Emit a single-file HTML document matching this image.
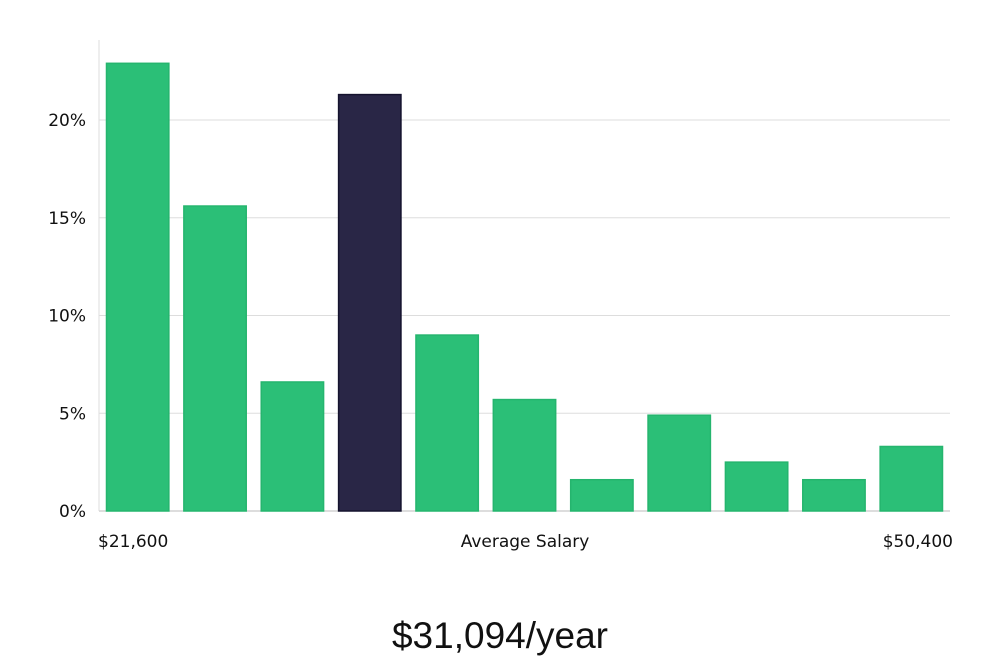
<!DOCTYPE html>
<html><head><meta charset="utf-8"><style>
body{margin:0;background:#fff;width:1000px;height:660px;overflow:hidden}
svg text{font-family:"DejaVu Sans","Liberation Sans",sans-serif;fill:#111}
</style></head><body>
<svg id="chart" width="1000" height="660" xmlns="http://www.w3.org/2000/svg">
<g id="grid"></g><g id="bars"></g><g id="labels"></g>
<text x="98" y="547" font-size="17">$21,600</text>
<text x="525" y="547" font-size="17" text-anchor="middle">Average Salary</text>
<text x="953" y="547" font-size="17" text-anchor="end">$50,400</text>
<text x="500" y="648" font-size="37" text-anchor="middle" style="font-family:'Liberation Sans',sans-serif;font-weight:300;fill:#111">$31,094/year</text>
</svg>
<script>
const values=[22.9,15.6,6.6,21.3,9.0,5.7,1.6,4.9,2.5,1.6,3.3];
const highlight=[false,false,false,true,false,false,false,false,false,false,false];
const yTicks=[0,5,10,15,20];
const yTickLabels=["0%","5%","10%","15%","20%"];
const NS="http://www.w3.org/2000/svg";
const x0=99,x1=950,yBase=511,pxPer=19.55;
const y=v=>yBase-v*pxPer;
const slot=(x1-x0)/values.length;
const g=document.getElementById('grid'),b=document.getElementById('bars'),l=document.getElementById('labels');
yTicks.forEach((t,i)=>{
 const ln=document.createElementNS(NS,'line');
 
 
 ln.setAttribute('x1',x0);ln.setAttribute('x2',x1);ln.setAttribute('y1',y(t));ln.setAttribute('y2',y(t));
 ln.setAttribute('stroke',t===0?'#bbb':'#ddd');ln.setAttribute('stroke-width','1');
 g.appendChild(ln);
 const tx=document.createElementNS(NS,'text');
 
 
 tx.setAttribute('x',86);tx.setAttribute('y',y(t)+6);tx.setAttribute('font-size','17');tx.setAttribute('text-anchor','end');
 tx.textContent=yTickLabels[i];l.appendChild(tx);
});
const ax=document.createElementNS(NS,'line');


ax.setAttribute('x1',x0);ax.setAttribute('x2',x0);ax.setAttribute('y1',40);ax.setAttribute('y2',yBase);ax.setAttribute('stroke','#ddd');
g.appendChild(ax);
values.forEach((v,i)=>{
 const r=document.createElementNS(NS,'rect');
 
 
 const bx=x0+i*slot+7.5;
 r.setAttribute('x',bx);r.setAttribute('width',slot-15);
 r.setAttribute('y',y(v));r.setAttribute('height',yBase-y(v));
 r.setAttribute('fill',highlight[i]?'#292646':'#2bbf77');
 r.setAttribute('stroke',highlight[i]?'#15132e':'#25b56e');r.setAttribute('stroke-width','1.5');
 b.appendChild(r);
});
</script>
</body></html>
